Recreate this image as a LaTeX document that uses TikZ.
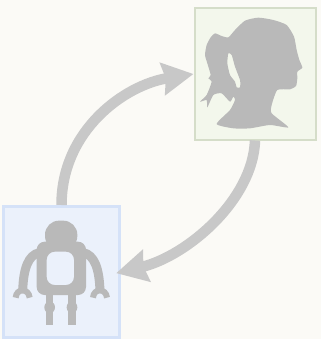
\documentclass[tikz,border=0pt]{standalone}
\usetikzlibrary{arrows.meta}
\definecolor{paper}{HTML}{FBFAF6}
\definecolor{humanfill}{HTML}{F3F7EC}
\definecolor{humanline}{HTML}{D5DDC9}
\definecolor{robotfill}{HTML}{EBF1FB}
\definecolor{robotline}{HTML}{D5E2F8}
\definecolor{figgray}{HTML}{B9B9B9}
\definecolor{linkgray}{HTML}{C8C8C8}
\tikzset{
  card/.style={draw=#1line,fill=#1fill,inner sep=0pt,minimum height=131pt},
  link/.style={draw=linkgray,line width=10.5pt,-{Stealth[length=31pt,width=32pt,inset=3pt]}},
  limb/.style={draw=figgray,line cap=butt}
}
\begin{document}
\begin{tikzpicture}[x=1pt,y=-1pt]
  \useasboundingbox[fill=paper] (0,0) rectangle (321,339);
  \node[card=human,line width=2pt,minimum width=121pt] (human) at (255,74) {};
  \node[card=robot,line width=3pt,minimum width=116pt] (robot) at (61.5,272) {};
  \begin{scope}[shift={(190,0)},x=1/3*1pt,y=-1/3*1pt]
    \fill[figgray,even odd rule]
      plot[smooth cycle,tension=.35] coordinates {
        (295,382) (245,340) (245,315) (262,270) (300,268) (318,258) (322,235)
        (322,215) (337,203) (328,180) (320,150) (312,110) (290,75) (250,60)
        (205,53) (165,62) (135,90) (115,112) (95,108) (75,100) (62,112)
        (50,135) (45,165) (52,190) (62,225) (55,235) (65,245) (50,285)
        (30,305) (50,300) (52,322) (70,285) (95,280) (120,305) (130,290)
        (135,300) (120,330) (80,372) (130,385) (180,385) (240,375)}
      plot[smooth cycle,tension=.35] coordinates {
        (115,160) (125,165) (135,200) (150,240) (150,262) (140,262) (135,245)
        (120,225) (112,190)};
  \end{scope}
  \begin{scope}[shift={(0,200)},x=1/3*1pt,y=-1/3*1pt]
    \fill[figgray,rounded corners=14pt] (135,150) -- (135,62) -- (232,62) -- (232,150) -- cycle;
    \fill[figgray,even odd rule,rounded corners=8pt]
      (110,125) rectangle (258,285)
      (140,155) rectangle (222,255);
    \draw[limb,line width=9pt] (118,158) .. controls (85,165) and (70,205) .. (68,274);
    \draw[limb,line width=9pt] (250,158) .. controls (283,165) and (298,205) .. (300,274);
    \draw[limb,line width=6pt] (47,293) .. controls (49,264) and (86,264) .. (89,293);
    \draw[limb,line width=6pt] (279,293) .. controls (281,264) and (318,264) .. (321,293);
    \fill[figgray] (138,280) rectangle (160,376);
    \fill[figgray] (205,280) rectangle (228,376);
    \fill[figgray] (149,322) ellipse [x radius=16,y radius=18];
    \fill[figgray] (216,322) ellipse [x radius=16,y radius=18];
  \end{scope}
  \draw[link] (robot.north) .. controls (61.5,130) and (125,85) .. (human.west);
  \draw[link,shorten >=-5pt] (human.south) .. controls (253,200) and (187,256) .. (robot.east);
\end{tikzpicture}
\end{document}
